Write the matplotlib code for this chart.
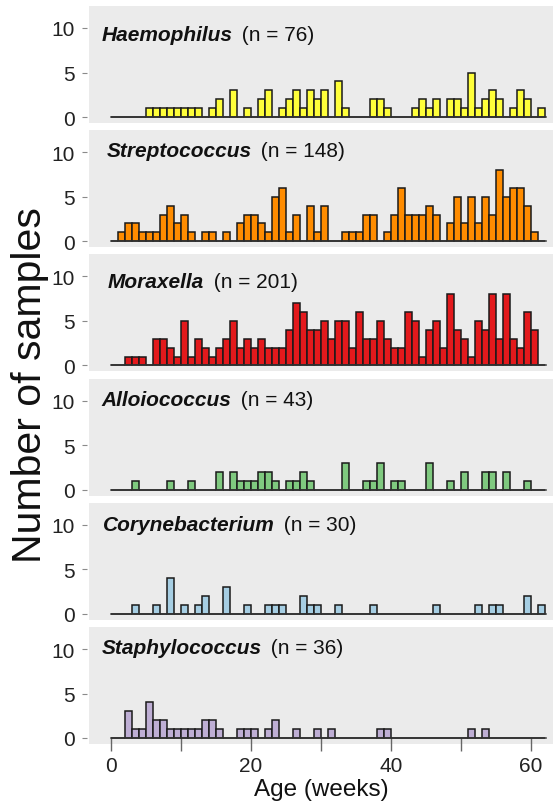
import numpy as np
import matplotlib
matplotlib.use("Agg")
import matplotlib.pyplot as plt

plt.rcParams['font.family'] = ['Liberation Sans', 'DejaVu Sans']

# Weekly sample counts (bin k covers ages k to k+1 weeks), weeks 0..61
weeks = np.arange(62)

haemophilus = [0, 0, 0, 0, 0, 1, 1, 1, 1, 1, 1, 1, 1, 0, 1, 2, 0, 3, 0, 1,
               0, 2, 3, 0, 1, 2, 3, 1, 3, 2, 3, 0, 4, 1, 0, 0, 0, 2, 2, 1,
               0, 0, 0, 1, 2, 1, 2, 0, 2, 2, 1, 5, 1, 2, 3, 2, 0, 1, 3, 2,
               0, 1]
streptococcus = [0, 1, 2, 2, 1, 1, 1, 3, 4, 2, 3, 1, 0, 1, 1, 0, 1, 0, 2, 3,
                 3, 2, 1, 5, 6, 1, 3, 0, 4, 1, 4, 0, 0, 1, 1, 1, 3, 3, 0, 1,
                 3, 6, 3, 3, 3, 4, 3, 0, 2, 5, 2, 5, 2, 5, 3, 8, 5, 6, 6, 4,
                 1, 0]
moraxella = [0, 0, 1, 1, 1, 0, 3, 3, 2, 1, 5, 1, 3, 2, 1, 2, 3, 5, 2, 3,
             2, 3, 2, 2, 2, 4, 7, 6, 4, 4, 5, 3, 5, 5, 2, 6, 3, 3, 5, 3,
             2, 2, 6, 5, 1, 4, 5, 2, 8, 4, 3, 1, 5, 4, 8, 3, 8, 3, 2, 6,
             4, 0]
alloiococcus = [0, 0, 0, 1, 0, 0, 0, 0, 1, 0, 0, 1, 0, 0, 0, 2, 0, 2, 1, 1,
                1, 2, 2, 1, 0, 1, 1, 2, 1, 0, 0, 0, 0, 3, 0, 0, 1, 1, 3, 0,
                1, 1, 0, 0, 0, 3, 0, 0, 1, 0, 2, 0, 0, 2, 2, 0, 2, 0, 0, 1,
                0, 0]
corynebacterium = [0, 0, 0, 1, 0, 0, 1, 0, 4, 0, 1, 0, 1, 2, 0, 0, 3, 0, 0, 1,
                   0, 0, 1, 1, 1, 0, 0, 2, 1, 1, 0, 0, 1, 0, 0, 0, 0, 1, 0, 0,
                   0, 0, 0, 0, 0, 0, 1, 0, 0, 0, 0, 0, 1, 0, 1, 1, 0, 0, 0, 2,
                   0, 1]
staphylococcus = [0, 0, 3, 1, 1, 4, 2, 2, 1, 1, 1, 1, 1, 2, 2, 1, 0, 0, 1, 1,
                  1, 0, 1, 2, 0, 0, 1, 0, 0, 1, 0, 1, 0, 0, 0, 0, 0, 0, 1, 1,
                  0, 0, 0, 0, 0, 0, 0, 0, 0, 0, 0, 1, 0, 1, 0, 0, 0, 0, 0, 0,
                  0, 0]

genera = ["Haemophilus", "Streptococcus", "Moraxella",
          "Alloiococcus", "Corynebacterium", "Staphylococcus"]
series = [haemophilus, streptococcus, moraxella,
          alloiococcus, corynebacterium, staphylococcus]
colors = ["#FFFF3A", "#FF8C00", "#E3191C", "#7FC97F", "#A6CEE3", "#BEAED4"]

y_ticks = [0, 5, 10]
x_major = [0, 20, 40, 60]
x_minor = [10, 30, 50]

# label placement inside each panel (axes fraction)
label_pos = [(0.028, 0.76), (0.038, 0.829), (0.041, 0.765),
             (0.027, 0.82), (0.030, 0.812), (0.027, 0.829)]

W, H = 553, 804
fig = plt.figure(figsize=(W / 100, H / 100), dpi=100)

left_px, right_px = 89, 553
panel_h, pitch, top0 = 117, 124.2, 7
px_per_unit_x = 7.0
px_per_unit_y = 8.9
zero_x = 111

for i, (name, counts, col) in enumerate(zip(genera, series, colors)):
    top = top0 + pitch * i
    ax = fig.add_axes([left_px / W, 1 - (top + panel_h) / H,
                       (right_px - left_px) / W, panel_h / H])
    ax.set_facecolor("#EBEBEB")
    ax.bar(weeks, counts, width=1, align="edge", color=col,
           edgecolor="#1a1a1a", linewidth=1.1, zorder=3)

    ax.set_xlim((left_px - zero_x) / px_per_unit_x,
                (right_px - zero_x) / px_per_unit_x)
    ax.set_ylim(-6 / px_per_unit_y, 111 / px_per_unit_y)

    for s in ("top", "right"):
        ax.spines[s].set_visible(False)
    ax.spines["left"].set_visible(False)
    ax.spines["left"].set_position(("outward", 1.5))
    ax.spines["bottom"].set_position(("data", 0))
    ax.spines["bottom"].set_bounds(0, 62.2)
    ax.spines["bottom"].set_color("#333333")
    ax.spines["bottom"].set_linewidth(1.1)
    ax.spines["bottom"].set_zorder(4)

    ax.set_yticks(y_ticks)
    ax.tick_params(axis="y", direction="out", length=3.6, width=0.8,
                   color="#8a8a8a", labelsize=15, labelcolor="#222222", pad=5)

    if i == len(genera) - 1:
        ax.set_xticks(x_major)
        ax.set_xticks(x_minor, minor=True)
        ax.tick_params(axis="x", which="both", direction="out", length=9.5,
                       width=1.0, color="#666666")
        ax.tick_params(axis="x", which="major", labelsize=15,
                       labelcolor="#222222", pad=3.5)
    else:
        ax.set_xticks([])

    lx, ly = label_pos[i]
    t1 = ax.text(lx, ly, name, transform=ax.transAxes, fontsize=15,
                 fontweight="bold", style="italic", va="center", ha="left",
                 color="#111111", zorder=5)
    ax.annotate(f" (n = {int(np.sum(counts))})", xy=(1, 0), xycoords=t1,
                xytext=(2.5, 0), textcoords="offset points",
                va="bottom", ha="left", fontsize=15, color="#111111")

fig.text(30 / W, 1 - 385 / H, "Number of samples", rotation=90,
         fontsize=29.5, ha="center", va="center", color="#111111")
fig.text(321 / W, 1 - 790 / H, "Age (weeks)", fontsize=17.5,
         ha="center", va="center", color="#111111")

fig.savefig("out.png", dpi=100)
